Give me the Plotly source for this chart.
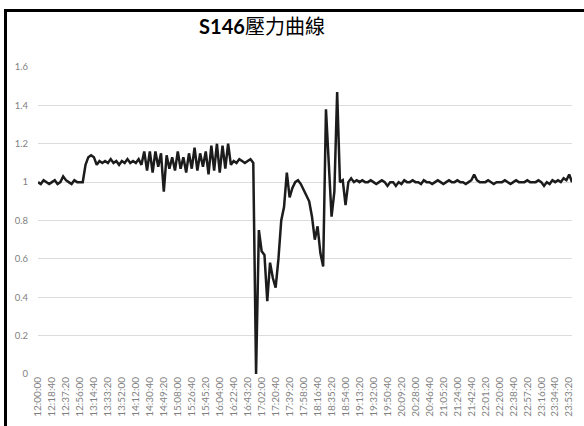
import plotly.graph_objects as go

# 壓力值 (每個時間標籤之間取 5 個點)
pressure = [
    1.00, 0.99, 1.01, 1.00, 0.99,
    1.00, 1.01, 0.99, 1.00, 1.03,
    1.01, 1.00, 0.99, 1.01, 1.00,
    1.00, 1.00, 1.09, 1.13, 1.14,
    1.13, 1.09, 1.11, 1.10, 1.11,
    1.10, 1.12, 1.10, 1.11, 1.09,
    1.11, 1.10, 1.12, 1.10, 1.11,
    1.10, 1.12, 1.09, 1.16, 1.06,
    1.16, 1.05, 1.16, 1.08, 1.15,
    0.95, 1.14, 1.07, 1.13, 1.06,
    1.16, 1.07, 1.13, 1.05, 1.15,
    1.07, 1.18, 1.06, 1.15, 1.08,
    1.16, 1.04, 1.19, 1.06, 1.20,
    1.05, 1.19, 1.07, 1.20, 1.09,
    1.11, 1.10, 1.12, 1.11, 1.10,
    1.11, 1.12, 1.10, 0.00, 0.75,
    0.64, 0.62, 0.38, 0.58, 0.50,
    0.45, 0.60, 0.80, 0.87, 1.05,
    0.92, 0.97, 1.00, 1.01, 0.99,
    0.96, 0.93, 0.90, 0.82, 0.70,
    0.77, 0.63, 0.56, 1.38, 1.10,
    0.82, 0.95, 1.47, 1.00, 1.01,
    0.88, 1.00, 1.02, 1.00, 1.01,
    1.00, 1.01, 1.00, 1.00, 1.01,
    1.00, 0.99, 1.00, 1.01, 1.00,
    0.98, 1.00, 1.00, 0.98, 1.00,
    0.99, 1.01, 1.00, 1.00, 1.01,
    1.00, 1.00, 0.99, 1.01, 1.00,
    1.00, 0.99, 1.00, 1.01, 1.00,
    0.99, 1.00, 1.01, 1.00, 1.00,
    1.01, 1.00, 1.00, 0.99, 1.00,
    1.01, 1.04, 1.01, 1.00, 1.00,
    1.00, 1.01, 1.00, 0.99, 1.00,
    1.00, 1.00, 1.01, 1.00, 0.99,
    1.00, 1.01, 1.00, 1.00, 1.00,
    1.01, 1.00, 1.00, 1.00, 1.01,
    1.00, 0.98, 1.00, 0.99, 1.01,
    1.00, 1.01, 1.00, 1.02, 1.01,
    1.04, 1.00,
]

time_labels = [
    "12:00:00", "12:18:40", "12:37:20", "12:56:00", "13:14:40", "13:33:20",
    "13:52:00", "14:12:00", "14:30:40", "14:49:20", "15:08:00", "15:26:40",
    "15:45:20", "16:04:00", "16:22:40", "16:43:20", "17:02:00", "17:20:40",
    "17:39:20", "17:58:00", "18:16:40", "18:35:20", "18:54:00", "19:13:20",
    "19:32:00", "19:50:40", "20:09:20", "20:28:00", "20:46:40", "21:05:20",
    "21:24:00", "21:42:40", "22:01:20", "22:20:00", "22:38:40", "22:57:20",
    "23:16:00", "23:34:40", "23:53:20",
]

y_ticks = [0, 0.2, 0.4, 0.6, 0.8, 1, 1.2, 1.4, 1.6]

STEP = 5  # 每個標籤間的點數

fig = go.Figure()

fig.add_trace(go.Scatter(
    x=list(range(len(pressure))),
    y=pressure,
    mode='lines',
    line=dict(color='#1c1c1c', width=2.5),
    hoverinfo='skip',
    showlegend=False
))

FONT = 'Lato, Noto Sans CJK TC, sans-serif'

fig.update_layout(
    width=584,
    height=426,
    margin=dict(l=38, r=12, t=67, b=52, autoexpand=False),
    paper_bgcolor='white',
    plot_bgcolor='white',
    title=dict(
        text='<b>S146</b>壓力曲線',
        x=262 / 584,
        xref='container',
        xanchor='center',
        y=1 - 27 / 426,
        yref='container',
        yanchor='middle',
        font=dict(family=FONT, size=20, color='#000000')
    ),
    xaxis=dict(
        range=[0, len(pressure) - 1],
        tickvals=[i * STEP for i in range(len(time_labels))],
        ticktext=time_labels,
        tickangle=-90,
        tickfont=dict(family=FONT, size=10, color='#7f7f7f'),
        showgrid=False,
        zeroline=False,
        showline=False,
        ticks=''
    ),
    yaxis=dict(
        range=[0, 1.6],
        tickvals=y_ticks,
        tickfont=dict(family=FONT, size=9.5, color='#7f7f7f'),
        showgrid=True,
        gridcolor='#dcdcdc',
        gridwidth=1,
        zeroline=False,
        showline=False,
        ticks='',
        ticklabelstandoff=9
    ),
    shapes=[dict(
        type='rect',
        xref='paper', yref='paper',
        x0=(5.5 - 38) / 534, x1=1.04,
        y0=-0.2, y1=1 + (67 - 10.5) / 307,
        line=dict(color='#000000', width=3),
        layer='above'
    )]
)

# 頁面預設 body 邊距為 8px，去掉以對齊
fig.write_html(
    "out.html",
    config={'displayModeBar': False},
    post_script="document.body.style.margin='0';"
)
